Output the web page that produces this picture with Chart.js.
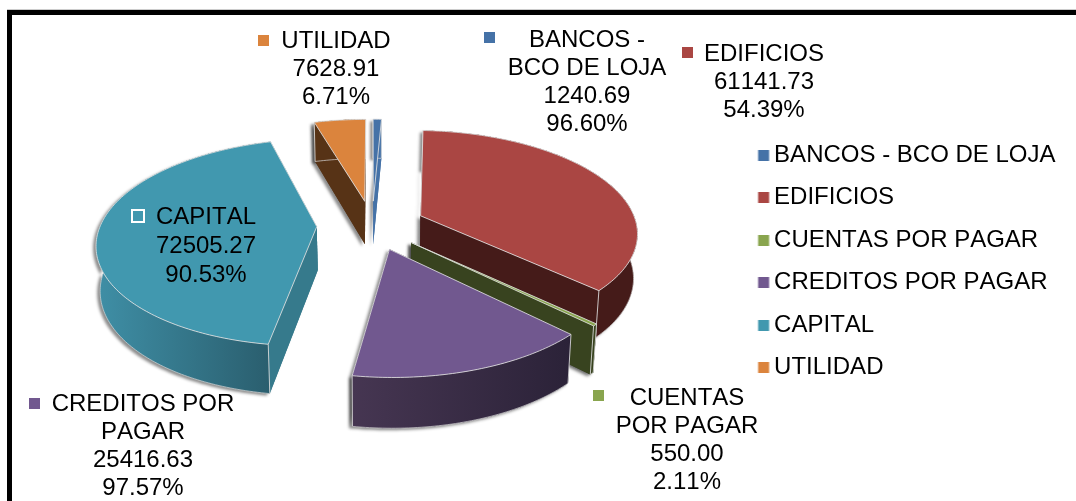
<!DOCTYPE html>
<html><head><meta charset="utf-8">
<style>html,body{margin:0;padding:0;background:#fff}canvas{display:block}</style>
<script src="https://cdn.jsdelivr.net/npm/chart.js@4"></script>
</head><body><canvas id="c" width="1076" height="501"></canvas>
<script>
const categories = ['BANCOS - BCO DE LOJA','EDIFICIOS','CUENTAS POR PAGAR','CREDITOS POR PAGAR','CAPITAL','UTILIDAD'];
const values = [1240.69,61141.73,550.00,25416.63,72505.27,7628.91];
const percentLabels = ['96.60%','54.39%','2.11%','97.57%','90.53%','6.71%'];
const wrappedNames = [['BANCOS -','BCO DE LOJA'],['EDIFICIOS'],['CUENTAS','POR PAGAR'],['CREDITOS POR','PAGAR'],['CAPITAL'],['UTILIDAD']];
const sliceColors = ['#4572A7','#AA4643','#89A54E','#71588F','#4198AF','#DB843D'];
const wallColors = ['#4572A7','#451B19','#38431F','#2E2439','#367A8C','#573316'];
const curveStart = ['#4572A7','#451B19','#38431F','#463652','#3F8FA6','#573316'];
const curveEnd = ['#4572A7','#451B19','#38431F','#2B2238','#2A5E6E','#573316'];
const sliceOffsets = [49,49,49,49,51,49];
const FONT = '24px "Liberation Sans", Arial, sans-serif';
const labelBoxes = [
  {cx:587,y:40,lh:28,mx:484,my:32},
  {cx:764,y:54,lh:28,mx:682,my:47},
  {cx:687,y:398,lh:28,mx:593,my:390},
  {cx:143,y:404,lh:28,mx:29,my:398},
  {cx:206,y:217,lh:29,mx:132,my:210,hollow:true},
  {cx:336,y:41,lh:28,mx:258,my:35}
];
const view = {scale:1.084, tilt:0.466, persp:0.15, depth:44, shrink:0.985};

function legendMarker(color){
  const m=document.createElement('canvas'); m.width=30; m.height=11;
  const g=m.getContext('2d'); g.fillStyle=color; g.fillRect(11.5,0,11,11); return m;
}
const pie3d = {
  id:'pie3d',
  afterLayout(chart){ chart.legend.top += 36.5; chart.legend.bottom += 36.5; },
  beforeDraw(chart){
    const c=chart.ctx;
    c.fontKerning='none';
    c.save();
    c.fillStyle='#fff'; c.fillRect(0,0,chart.width,chart.height);
    c.fillStyle='#ccc'; c.fillRect(7,9,chart.width,1);
    c.fillStyle='#000'; c.fillRect(7,10,chart.width,5); c.fillRect(7,10,5,chart.height);
    c.restore();
  },
  beforeDatasetsDraw(chart){
    const c=chart.ctx, arcs=chart.getDatasetMeta(0).data;
    const faces=arcs.map((a,i)=>{
      const p=a.getProps(['x','y','startAngle','endAngle','outerRadius'],true);
      const R=p.outerRadius*view.scale, t1=p.startAngle+Math.PI/2, t2=p.endAngle+Math.PI/2, mid=(t1+t2)/2;
      const off=a.options.offset*view.scale, ox=Math.sin(mid)*off, oz=Math.cos(mid)*off;
      const top=(X,Z)=>{const s=1/(1+view.persp*Z/R);return [p.x+X*s,p.y-view.tilt*Z*s,s];};
      const bot=(X,Z)=>{const q=top(X,Z);return [p.x+(q[0]-p.x)*view.shrink,q[1]+view.depth*Math.pow(q[2],.7)];};
      const n=Math.max(2,Math.ceil((t2-t1)*60)), rim=[];
      for(let k=0;k<=n;k++){const t=t1+(t2-t1)*k/n;rim.push([ox+R*Math.sin(t),oz+R*Math.cos(t)]);}
      return {i,oz,ox,top,bot,rim};
    });
    const poly=(pts)=>{c.beginPath();pts.forEach((q,k)=>k?c.lineTo(q[0],q[1]):c.moveTo(q[0],q[1]));c.closePath();};
    const edge=(pts,closed)=>{c.beginPath();pts.forEach((q,k)=>k?c.lineTo(q[0],q[1]):c.moveTo(q[0],q[1]));if(closed)c.closePath();c.stroke();};
    c.save();
    faces.slice().sort((a,b)=>b.oz-a.oz).forEach(f=>{
      const A=f.top(f.ox,f.oz), B=f.bot(f.ox,f.oz);
      const tr=f.rim.map(q=>f.top(q[0],q[1])), br=f.rim.map(q=>f.bot(q[0],q[1]));
      const last=tr.length-1;
      const xs=tr.map(q=>q[0]), g=c.createLinearGradient(Math.min(...xs),0,Math.max(...xs),0);
      g.addColorStop(0,curveStart[f.i]); g.addColorStop(1,curveEnd[f.i]);
      const walls=()=>{
        c.fillStyle=wallColors[f.i];
        poly([A,tr[0],br[0],B]); c.fill();
        poly([A,tr[last],br[last],B]); c.fill();
        c.fillStyle=g; poly(tr.concat(br.slice().reverse())); c.fill();
      };
      c.shadowColor='rgba(0,0,0,.45)'; c.shadowOffsetX=-3; c.shadowOffsetY=2; c.shadowBlur=3;
      walls();
      c.shadowColor='transparent';
      walls();
      c.strokeStyle='rgba(215,215,215,.7)'; c.lineWidth=1;
      edge(br);
      c.strokeStyle='rgba(225,225,225,.85)';
      edge([tr[0],br[0]]); edge([tr[last],br[last]]);
      c.fillStyle=sliceColors[f.i]; poly([A].concat(tr)); c.fill();
      edge([A].concat(tr),true);
    });
    c.restore();
    return false;
  },
  afterDraw(chart){
    const c=chart.ctx; c.save();
    c.font=FONT; c.fillStyle='#000'; c.textAlign='center'; c.textBaseline='middle';
    labelBoxes.forEach((b,i)=>{
      const lines=wrappedNames[i].concat([values[i].toFixed(2),percentLabels[i]]);
      lines.forEach((t,k)=>c.fillText(t,b.cx,b.y+k*b.lh));
      if(b.hollow){c.fillStyle=sliceColors[i];c.strokeStyle='#fff';c.lineWidth=2;c.fillRect(b.mx,b.my,12,12);c.strokeRect(b.mx,b.my,12,12);c.fillStyle='#000';}
      else{c.fillStyle=sliceColors[i];c.fillRect(b.mx,b.my,11,11);c.fillStyle='#000';}
    });
    c.restore();
  }
};
new Chart(document.getElementById('c'),{
  type:'pie',
  data:{labels:categories,datasets:[{data:values,backgroundColor:sliceColors,offset:sliceOffsets,borderWidth:0}]},
  options:{
    responsive:false,animation:false,
    layout:{padding:{left:1.5,right:10.5,top:0,bottom:51}},
    plugins:{
      tooltip:{enabled:false},
      legend:{position:'right',align:'center',labels:{
        font:{family:'"Liberation Sans", Arial, sans-serif',size:24},color:'#000',
        boxWidth:1,boxHeight:11,padding:18.5,usePointStyle:true,
        generateLabels:(chart)=>categories.map((t,i)=>({text:t,fillStyle:sliceColors[i],strokeStyle:sliceColors[i],lineWidth:0,fontColor:'#000',hidden:false,index:i,pointStyle:legendMarker(sliceColors[i])}))
      }}
    }
  },
  plugins:[pie3d]
});
</script></body></html>
